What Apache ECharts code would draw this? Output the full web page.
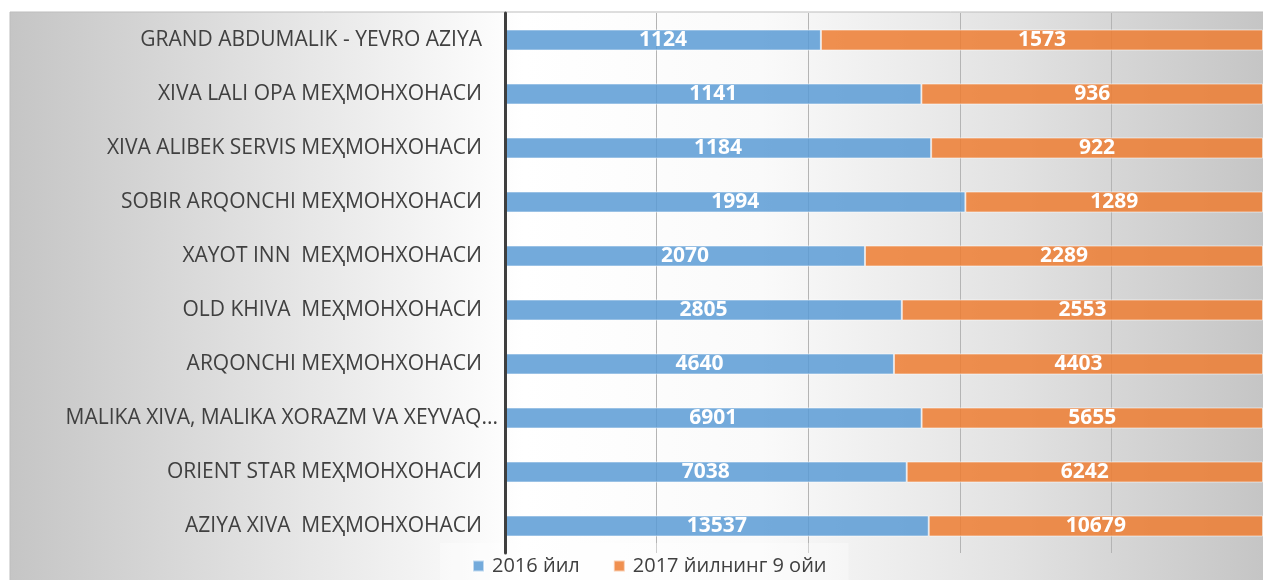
<!DOCTYPE html>
<html>
<head>
<meta charset="utf-8">
<script src="https://cdn.jsdelivr.net/npm/echarts@6/dist/echarts.min.js"></script>
<style>
html,body{margin:0;padding:0;background:#fff;}
#chart{width:1263px;height:580px;}
</style>
</head>
<body>
<div id="chart"></div>
<script>
// Data (top to bottom as shown)
const categories = [
  "GRAND ABDUMALIK - YEVRO AZIYA",
  "XIVA LALI OPA МЕҲМОНХОНАСИ",
  "XIVA ALIBEK SERVIS МЕҲМОНХОНАСИ",
  "SOBIR ARQONCHI МЕҲМОНХОНАСИ",
  "XAYOT INN  МЕҲМОНХОНАСИ",
  "OLD KHIVA  МЕҲМОНХОНАСИ",
  "ARQONCHI МЕҲМОНХОНАСИ",
  "MALIKA XIVA, MALIKA XORAZM VA XEYVAQ...",
  "ORIENT STAR МЕҲМОНХОНАСИ",
  "AZIYA XIVA  МЕҲМОНХОНАСИ"
];
const seriesNames = ["2016 йил", "2017 йилнинг 9 ойи"];
const values2016 = [1124, 1141, 1184, 1994, 2070, 2805, 4640, 6901, 7038, 13537];
const values2017 = [1573, 936, 922, 1289, 2289, 2553, 4403, 5655, 6242, 10679];
const truncatedIndex = 7;

// 100% stacked: share of each row total
const totals = values2016.map((v, i) => v + values2017[i]);
const pct2016 = values2016.map((v, i) => ({ value: v / totals[i] * 100, raw: v }));
const pct2017 = values2017.map((v, i) => ({ value: v / totals[i] * 100, raw: v }));

const chart = echarts.init(document.getElementById('chart'), null, { renderer: 'canvas' });

const bgGradient = new echarts.graphic.LinearGradient(10, 0, 1263, 0, [
  { offset: 0, color: '#c5c5c5' },
  { offset: 0.41, color: '#ffffff' },
  { offset: 0.6, color: '#fafafa' },
  { offset: 0.8, color: '#e2e2e2' },
  { offset: 1, color: '#c5c5c5' }
], true);

const FONT = '"Open Sans", "Noto Sans", sans-serif';

const labelStyle = {
  show: true,
  position: 'inside',
  color: '#ffffff',
  fontFamily: FONT,
  fontWeight: 'bold',
  fontSize: 21,
  formatter: p => String(p.data.raw)
};

chart.setOption({
  animation: false,
  backgroundColor: '#ffffff',
  textStyle: { fontFamily: FONT },
  graphic: [{
    type: 'rect',
    z: -10,
    silent: true,
    shape: { x: 10, y: 12, width: 1260, height: 580 },
    style: { fill: bgGradient, stroke: '#bdbdbd', lineWidth: 1 }
  }],
  grid: { left: 505, right: -1, top: 13, bottom: 27, containLabel: false },
  legend: {
    data: seriesNames,
    left: 440,
    top: 543,
    padding: [13, 22, 8, 32],
    itemGap: 33,
    itemWidth: 11,
    itemHeight: 11,
    icon: 'rect',
    backgroundColor: 'rgba(255,255,255,0.35)',
    textStyle: { color: '#404040', fontSize: 20, fontFamily: FONT, padding: [0, 0, 0, 3] }
  },
  xAxis: {
    type: 'value',
    min: 0,
    max: 100,
    interval: 20,
    axisLabel: { show: false },
    axisLine: { show: false },
    axisTick: { show: false },
    splitLine: { show: true, lineStyle: { color: '#b4b4b4', width: 1 } }
  },
  yAxis: {
    type: 'category',
    data: categories,
    inverse: true,
    z: 5,
    axisLine: { show: true, lineStyle: { color: '#3f3f3f', width: 3 } },
    axisTick: { show: false },
    axisLabel: {
      margin: 7,
      fontSize: 21,
      color: '#404040',
      fontFamily: FONT,
      formatter: (v, i) => i === truncatedIndex ? '{n|' + v + '}' : '{n|' + v + '}{s|}',
      rich: {
        n: { fontSize: 21, color: '#404040', fontFamily: FONT },
        s: { width: 16 }
      }
    }
  },
  series: [
    {
      name: seriesNames[0],
      type: 'bar',
      stack: 'total',
      barWidth: 21,
      data: pct2016,
      itemStyle: { color: 'rgba(91,155,213,0.85)', borderColor: 'rgba(255,255,255,0.55)', borderWidth: 1 },
      label: labelStyle
    },
    {
      name: seriesNames[1],
      type: 'bar',
      stack: 'total',
      barWidth: 21,
      data: pct2017,
      itemStyle: { color: 'rgba(237,125,49,0.85)', borderColor: 'rgba(255,255,255,0.55)', borderWidth: 1 },
      label: labelStyle
    }
  ]
});
</script>
</body>
</html>
